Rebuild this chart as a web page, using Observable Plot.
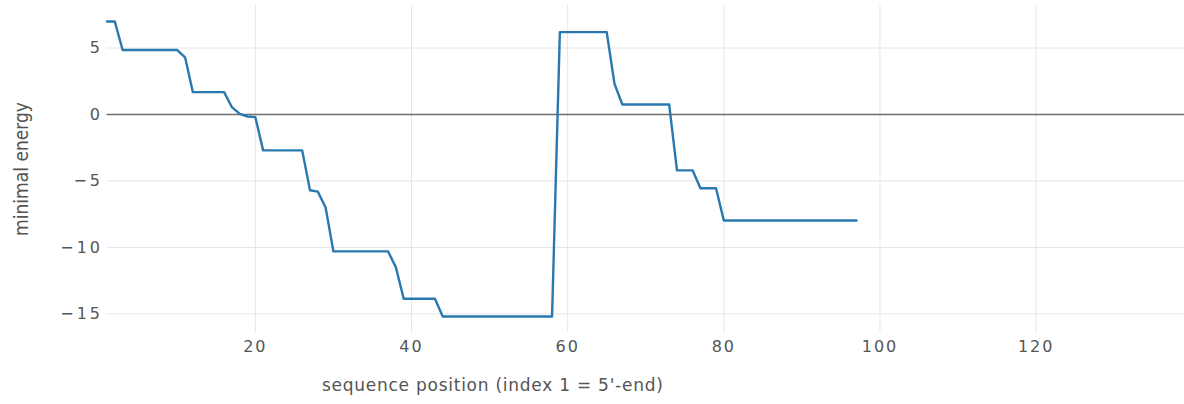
<!DOCTYPE html>
<html>
<head>
<meta charset="utf-8">
<script src="https://cdn.jsdelivr.net/npm/d3@7"></script>
<script src="https://cdn.jsdelivr.net/npm/@observablehq/plot@0.6"></script>
<style>
  html, body { margin: 0; padding: 0; background: #fff; }
  #chart svg { display: block; }
  #chart g[aria-label="x-axis tick label"] text { letter-spacing: 2px; }
  #chart g[aria-label="y-axis tick label"] text { letter-spacing: 3px; }
</style>
</head>
<body>
<div id="chart"></div>
<script>
// sequence positions 1..97 and the minimal energy at each position
const positions = [
  1, 2, 3, 4, 5, 6, 7, 8, 9, 10,
  11, 12, 13, 14, 15, 16, 17, 18, 19, 20,
  21, 22, 23, 24, 25, 26, 27, 28, 29, 30,
  31, 32, 33, 34, 35, 36, 37, 38, 39, 40,
  41, 42, 43, 44, 45, 46, 47, 48, 49, 50,
  51, 52, 53, 54, 55, 56, 57, 58, 59, 60,
  61, 62, 63, 64, 65, 66, 67, 68, 69, 70,
  71, 72, 73, 74, 75, 76, 77, 78, 79, 80,
  81, 82, 83, 84, 85, 86, 87, 88, 89, 90,
  91, 92, 93, 94, 95, 96, 97
];
const energies = [
  7.0, 7.0, 4.85, 4.85, 4.85, 4.85, 4.85, 4.85, 4.85, 4.85,
  4.3, 1.68, 1.68, 1.68, 1.68, 1.68, 0.55, 0.05, -0.15, -0.2,
  -2.7, -2.7, -2.7, -2.7, -2.7, -2.7, -5.7, -5.8, -7.0, -10.3,
  -10.3, -10.3, -10.3, -10.3, -10.3, -10.3, -10.3, -11.5, -13.86, -13.86,
  -13.86, -13.86, -13.86, -15.2, -15.2, -15.2, -15.2, -15.2, -15.2, -15.2,
  -15.2, -15.2, -15.2, -15.2, -15.2, -15.2, -15.2, -15.2, 6.2, 6.2,
  6.2, 6.2, 6.2, 6.2, 6.2, 2.3, 0.75, 0.75, 0.75, 0.75,
  0.75, 0.75, 0.75, -4.2, -4.2, -4.2, -5.55, -5.55, -5.55, -7.97,
  -7.97, -7.97, -7.97, -7.97, -7.97, -7.97, -7.97, -7.97, -7.97, -7.97,
  -7.97, -7.97, -7.97, -7.97, -7.97, -7.97, -7.97
];
const xTicks = [20, 40, 60, 80, 100, 120];
const yTicks = [-15, -10, -5, 0, 5];
const xDomain = [1, 139];
const yDomain = [-16.4, 8.2];
const xTitle = "sequence position (index 1 = 5'-end)";
const yTitle = "minimal energy";

const data = positions.map((p, i) => ({position: p, energy: energies[i]}));

const chart = Plot.plot({
  width: 1184,
  height: 404,
  marginLeft: 106.5,
  marginRight: 0,
  marginTop: 5,
  marginBottom: 72,
  style: {fontFamily: "'DejaVu Sans', sans-serif", background: "#fff", overflow: "visible"},
  x: {domain: xDomain, ticks: xTicks},
  y: {domain: yDomain, ticks: yTicks},
  marks: [
    Plot.gridX(xTicks, {stroke: "#e6e6e6", strokeOpacity: 1, strokeWidth: 1}),
    Plot.gridY(yTicks.filter(d => d !== 0), {stroke: "#e6e6e6", strokeOpacity: 1, strokeWidth: 1}),
    Plot.ruleY([0], {stroke: "#6e6e6e", strokeWidth: 1.3}),
    Plot.axisX(xTicks, {tickSize: 0, tickPadding: 8, fontSize: 16, fill: "#555", label: null}),
    Plot.axisY(yTicks, {tickSize: 0, tickPadding: 4, fontSize: 16, fill: "#555", label: null}),
    Plot.lineY(data, {x: "position", y: "energy", stroke: "#2a78b0", strokeWidth: 2.4}),
    Plot.text([xTitle], {frameAnchor: "bottom", dx: -153, dy: 58, text: d => d, fontSize: 17, fill: "#555"}),
    Plot.text([yTitle], {frameAnchor: "left", textAnchor: "middle", dx: -85.5, rotate: -90, text: d => d, fontSize: 19, fill: "#555", fontFamily: "'DejaVu Sans Condensed', 'Liberation Sans Narrow', sans-serif"})
  ]
});
d3.select(chart).selectAll("text").filter(function() { return this.textContent === xTitle; })
  .style("letter-spacing", "0.75px");
document.getElementById("chart").appendChild(chart);
</script>
</body>
</html>
